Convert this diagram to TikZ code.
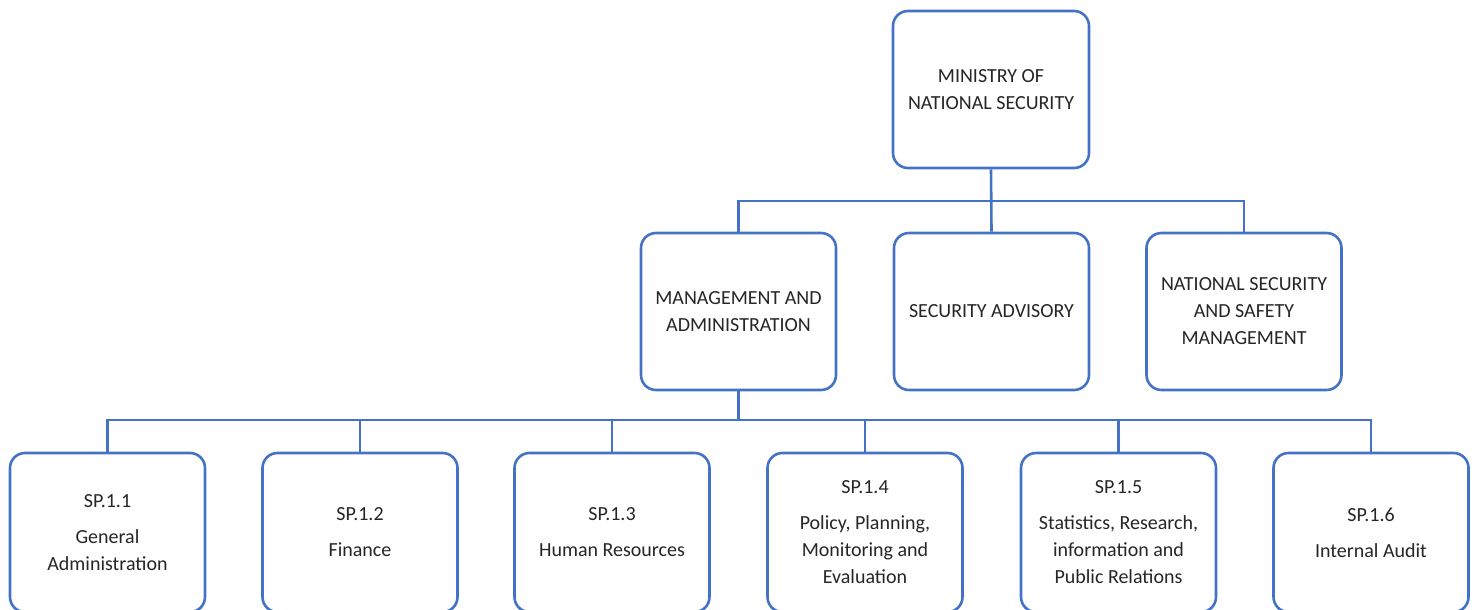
\documentclass[tikz,border=0pt]{standalone}
\usepackage{fontspec}
\setmainfont{Carlito}
\definecolor{boxblue}{HTML}{4472C4}
\definecolor{txt}{HTML}{262626}
\begin{document}
\begin{tikzpicture}[x=1pt,y=-1pt,
  orgbox/.style={draw=boxblue, line width=2.6pt, rounded corners=15pt, fill=white,
    minimum width=195pt, minimum height=157pt, align=center, text=txt,
    font=\fontsize{20}{27}\selectfont, inner sep=2pt},
  leafbox/.style={orgbox, minimum height=159pt},
  link/.style={draw=boxblue, line width=2.6pt}]
\useasboundingbox (0,0) rectangle (1477,610);
\node[orgbox, minimum width=196pt] (top) at (991,89.5) {MINISTRY OF\\NATIONAL SECURITY};
\node[orgbox] (ma) at (738.5,311.5) {MANAGEMENT AND\\ADMINISTRATION};
\node[orgbox] (sa) at (991.5,311.5) {SECURITY ADVISORY};
\node[orgbox] (ns) at (1244,311.5) {NATIONAL SECURITY\\AND SAFETY\\MANAGEMENT};
\node[leafbox] (s1) at (107.5,532.5) {SP.1.1\\[9pt]General\\Administration};
\node[leafbox] (s2) at (360,532.5) {SP.1.2\\[9pt]Finance};
\node[leafbox] (s3) at (612,532.5) {SP.1.3\\[9pt]Human Resources};
\node[leafbox] (s4) at (865,532.5) {SP.1.4\\[9pt]Policy, Planning,\\Monitoring and\\Evaluation};
\node[leafbox] (s5) at (1118.5,532.5) {SP.1.5\\[9pt]Statistics, Research,\\information and\\Public Relations};
\node[leafbox] (s6) at (1371,532.5) {SP.1.6\\[9pt]Internal Audit};
\coordinate (b1) at (991,201);
\coordinate (b2) at (738.5,420);
\draw[link] (top.south) -- (sa.north);
\draw[link] (b1) -| (ma.north);
\draw[link] (b1) -| (ns.north);
\draw[link] (ma.south) -- (b2);
\foreach \n in {s1,s2,s3,s4,s5,s6}{\draw[link] (b2) -| (\n.north);}
\end{tikzpicture}
\end{document}
